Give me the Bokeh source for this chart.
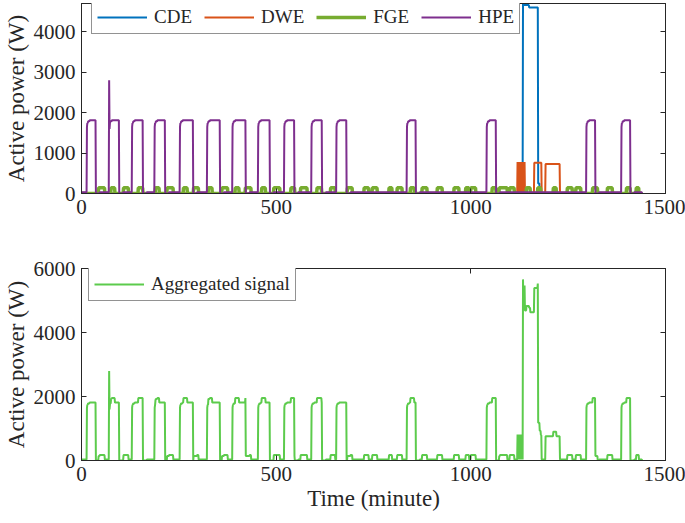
import numpy as np
from bokeh.plotting import figure
from bokeh.models import LinearAxis, FixedTicker, Range1d, Legend, LegendItem
from bokeh.layouts import column
from bokeh.embed import file_html
from bokeh.resources import INLINE

# ---------------- data (minutes, watts) ----------------
T_END = 1440

# HPE: heat-pump blocks
HPE_START = [14, 71, 130, 188, 253, 323, 388, 454, 521, 591, 655, 836, 1041, 1297, 1387]
HPE_STOP = [37, 97, 158, 215, 287, 356, 422, 484, 547, 618, 681, 859, 1065, 1320, 1410]
HPE_LEVELS = [1650, 1740, 1785, 1810]      # level reached during a block
HPE_LEVEL_AT = [0, 1, 3, 7]                # minute offset of each level after start
HPE_IDLE = 30
HPE_SPIKE_T = [71, 72]
HPE_SPIKE_V = [2800, 1600]

# CDE segments (start, stop, watts)
CDE_SEGS = [(1134, 1136, 4850), (1136, 1150, 4660), (1150, 1173, 4600), (1173, 1177, 250)]

# DWE: rapid on/off then two blocks
DWE_OSC_ON = [1120, 1122, 1124, 1126, 1128, 1130, 1132, 1134, 1136, 1138]
DWE_OSC_V = 780
DWE_SEGS = [(1163, 1182, 760), (1192, 1229, 730)]

# FGE: fridge pulses
FGE_ON = [44, 76, 108, 146, 190, 220, 262, 288, 326, 361, 395, 421, 463, 494, 538, 563, 605, 640,
          683, 726, 747, 790, 811, 845, 875, 914, 957, 987, 1000, 1055, 1073, 1100, 1143, 1172,
          1212, 1248, 1270, 1313, 1351, 1400, 1425]
FGE_OFF = [60, 86, 121, 158, 200, 236, 272, 301, 336, 376, 405, 436, 473, 510, 548, 580, 617, 652,
           696, 738, 760, 798, 824, 855, 888, 927, 970, 996, 1013, 1065, 1094, 1112, 1153, 1180,
           1220, 1261, 1283, 1326, 1364, 1410, 1432]
FGE_V = 140

X_TICKS = [0, 500, 1000, 1500]
Y1_TICKS = [0, 1000, 2000, 3000, 4000]
Y2_TICKS = [0, 2000, 4000, 6000]

# ---------------- build the series ----------------
t = np.arange(T_END + 1)

def fill(segs):
    y = np.zeros(T_END + 1)
    for s, e, v in segs:
        y[s:e] = v
    return y

hpe_segs = [(0, HPE_START[0], HPE_IDLE)]
for i, (s, e) in enumerate(zip(HPE_START, HPE_STOP)):
    offs = HPE_LEVEL_AT + [e - s]
    for k, lv in enumerate(HPE_LEVELS):
        hpe_segs.append((s + offs[k], s + offs[k + 1], lv))
    nxt = HPE_START[i + 1] if i + 1 < len(HPE_START) else T_END
    hpe_segs.append((e + 10, nxt, HPE_IDLE))
hpe = fill(hpe_segs)
for ts, vs in zip(HPE_SPIKE_T, HPE_SPIKE_V):
    hpe[ts] = vs

cde = fill(CDE_SEGS)
dwe = fill([(s, s + 1, DWE_OSC_V) for s in DWE_OSC_ON] + DWE_SEGS)
fge = fill([(s, e, FGE_V) for s, e in zip(FGE_ON, FGE_OFF)])
agg = cde + dwe + fge + hpe

# ---------------- styling ----------------
FONT = "Liberation Serif"
DARK = "#262626"

def mirror_axis(ticks):
    return LinearAxis(ticker=FixedTicker(ticks=ticks), major_label_text_font_size="1px",
                      major_label_text_color=None, major_label_text_alpha=0,
                      major_label_standoff=0, major_tick_in=5, major_tick_out=0,
                      minor_tick_line_color=None, axis_line_color=DARK,
                      major_tick_line_color=DARK)

def style(p, yticks, show_xlabel):
    p.xaxis.ticker = FixedTicker(ticks=X_TICKS)
    p.yaxis.ticker = FixedTicker(ticks=yticks)
    for ax in list(p.xaxis) + list(p.yaxis):
        ax.major_label_text_font = FONT
        ax.major_label_text_font_size = "21px"
        ax.major_label_text_color = DARK
        ax.axis_label_text_font = FONT
        ax.axis_label_text_font_size = "23px"
        ax.axis_label_text_font_style = "normal"
        ax.axis_label_text_color = DARK
        ax.axis_line_color = DARK
        ax.major_tick_line_color = DARK
        ax.major_tick_in = 5
        ax.major_tick_out = 0
        ax.minor_tick_line_color = None
    p.xaxis.major_label_standoff = 6
    p.yaxis.major_label_standoff = 6
    p.xaxis.axis_label_standoff = 2
    p.yaxis.axis_label_standoff = 2
    p.yaxis.axis_label = "Active power (W)"
    if show_xlabel:
        p.xaxis.axis_label = "Time (minute)"
    p.add_layout(mirror_axis(X_TICKS), "above")
    p.add_layout(mirror_axis(yticks), "right")
    p.xgrid.visible = False
    p.ygrid.visible = False
    p.outline_line_color = DARK
    p.outline_line_alpha = 1
    p.background_fill_color = "white"
    p.border_fill_color = "white"

def style_legend(lg, label_width, spacing):
    lg.label_text_font = FONT
    lg.label_text_font_size = "19px"
    lg.label_text_color = DARK
    lg.border_line_color = DARK
    lg.border_line_width = 1
    lg.background_fill_alpha = 1
    lg.glyph_width = 50
    lg.label_standoff = 7
    lg.padding = 5
    lg.label_height = 18
    lg.glyph_height = 18
    lg.label_width = label_width
    lg.spacing = spacing

# ---------------- top figure ----------------
p1 = figure(width=685, height=230, output_backend="svg", toolbar_location=None,
            x_range=Range1d(0, 1500), y_range=Range1d(0, 4700),
            min_border_left=81, min_border_right=20, min_border_top=3, min_border_bottom=37)
r_cde = p1.line(t, cde, line_color="#0072BD", line_width=2)
r_dwe = p1.line(t, dwe, line_color="#D95319", line_width=2)
r_fge = p1.line(t, fge, line_color="#77AC30", line_width=3.5)
r_hpe = p1.line(t, hpe, line_color="#7E2F8E", line_width=2)
style(p1, Y1_TICKS, False)
lg1 = Legend(items=[LegendItem(label="CDE", renderers=[r_cde]),
                    LegendItem(label="DWE", renderers=[r_dwe]),
                    LegendItem(label="FGE", renderers=[r_fge]),
                    LegendItem(label="HPE", renderers=[r_hpe])],
             orientation="horizontal", location=(10, 159))
style_legend(lg1, 20, 12)
p1.add_layout(lg1, "center")

# ---------------- bottom figure ----------------
p2 = figure(width=685, height=293, output_backend="svg", toolbar_location=None,
            x_range=Range1d(0, 1500), y_range=Range1d(0, 6000),
            min_border_left=81, min_border_right=20, min_border_top=38, min_border_bottom=63)
r_agg = p2.line(t, agg, line_color="#5CCB4C", line_width=2)
style(p2, Y2_TICKS, True)
lg2 = Legend(items=[LegendItem(label="Aggregated signal", renderers=[r_agg])],
             location=(7, 159))
style_legend(lg2, 20, 8)
p2.add_layout(lg2, "center")

layout = column(p1, p2)
open("out.html", "w").write(file_html(layout, INLINE))
